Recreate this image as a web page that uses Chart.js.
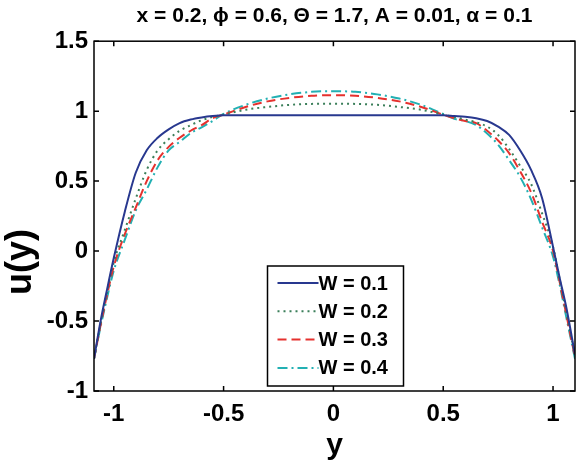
<!DOCTYPE html>
<html>
<head>
<meta charset="utf-8">
<script src="https://cdn.jsdelivr.net/npm/chart.js@4"></script>
<style>
  body { margin: 0; background: #fff; }
</style>
</head>
<body>
<canvas id="uChart" width="576" height="464"></canvas>
<script>
// channel coordinate y and the velocity profiles u(y) for each W
const yCoord = [-1.09, -1.06, -1.03, -1.0, -0.95, -0.9, -0.85, -0.8, -0.75, -0.7, -0.65, -0.6, -0.55,
  -0.5, -0.4, -0.3, -0.2, -0.1, 0, 0.1, 0.2, 0.3, 0.4, 0.5,
  0.55, 0.6, 0.65, 0.7, 0.75, 0.8, 0.85, 0.9, 0.95, 1.0, 1.03, 1.06, 1.1];

const uW1 = [-0.77, -0.50, -0.27, -0.05, 0.28, 0.56, 0.72, 0.81, 0.87, 0.915, 0.94, 0.955, 0.965,
  0.97, 0.97, 0.97, 0.97, 0.97, 0.97, 0.97, 0.97, 0.97, 0.97, 0.97,
  0.965, 0.96, 0.95, 0.93, 0.89, 0.83, 0.72, 0.58, 0.38, 0.03, -0.19, -0.40, -0.74];

const uW2 = [-0.77, -0.52, -0.29, -0.08, 0.15, 0.375, 0.58, 0.72, 0.80, 0.86, 0.90, 0.935, 0.958,
  0.975, 1.01, 1.03, 1.045, 1.052, 1.053, 1.052, 1.045, 1.03, 1.01, 0.975,
  0.958, 0.94, 0.92, 0.89, 0.83, 0.73, 0.61, 0.48, 0.27, 0.03, -0.20, -0.43, -0.75];

const uW3 = [-0.77, -0.53, -0.31, -0.11, 0.12, 0.31, 0.50, 0.65, 0.745, 0.81, 0.86, 0.90, 0.95,
  0.975, 1.03, 1.07, 1.095, 1.11, 1.114, 1.11, 1.095, 1.07, 1.03, 0.975,
  0.95, 0.93, 0.915, 0.86, 0.79, 0.70, 0.57, 0.42, 0.21, 0.0, -0.22, -0.45, -0.76];

const uW4 = [-0.77, -0.54, -0.33, -0.14, 0.08, 0.29, 0.44, 0.60, 0.72, 0.78, 0.843, 0.885, 0.93,
  0.98, 1.045, 1.09, 1.12, 1.138, 1.143, 1.138, 1.12, 1.09, 1.045, 0.98,
  0.945, 0.93, 0.90, 0.84, 0.76, 0.65, 0.53, 0.37, 0.17, -0.04, -0.24, -0.47, -0.77];

const seriesLabels = ['W = 0.1', 'W = 0.2', 'W = 0.3', 'W = 0.4'];

const xTicks = [-1, -0.5, 0, 0.5, 1];
const xTickLabels = ['-1', '-0.5', '0', '0.5', '1'];
const yTicks = [-1, -0.5, 0, 0.5, 1, 1.5];
const yTickLabels = ['-1', '-0.5', '0', '0.5', '1', '1.5'];

const FONT = "'Liberation Sans', Arial, sans-serif";

function toPoints(vals) {
    return yCoord.map((v, i) => ({ x: v, y: vals[i] }));
}

// box round the plot with inward tick marks on all four sides
const frame = {
    id: 'frame',
    afterDatasetsDraw(chart) {
        const { ctx, chartArea: a, scales: { x, y } } = chart;
        ctx.save();
        ctx.strokeStyle = '#000';
        ctx.lineWidth = 1.5;
        ctx.strokeRect(a.left, a.top, a.right - a.left, a.bottom - a.top);
        ctx.beginPath();
        xTicks.forEach(v => {
            const px = x.getPixelForValue(v);
            ctx.moveTo(px, a.bottom); ctx.lineTo(px, a.bottom - 5);
            ctx.moveTo(px, a.top); ctx.lineTo(px, a.top + 5);
        });
        yTicks.forEach(v => {
            const py = y.getPixelForValue(v);
            ctx.moveTo(a.left, py); ctx.lineTo(a.left + 5, py);
            ctx.moveTo(a.right, py); ctx.lineTo(a.right - 5, py);
        });
        ctx.stroke();

        // y axis title, sitting a little below the middle as in the figure
        ctx.save();
        ctx.translate(21, 262);
        ctx.rotate(-Math.PI / 2);
        ctx.font = 'bold 36px ' + FONT;
        ctx.fillStyle = '#000';
        ctx.textAlign = 'center';
        ctx.textBaseline = 'middle';
        ctx.fillText('u(y)', 0, 0);
        ctx.restore();
        ctx.restore();
    }
};

// legend inside the plot, near the bottom
const boxLegend = {
    id: 'boxLegend',
    afterDraw(chart) {
        const { ctx, chartArea: a } = chart;
        const w = 136, h = 120;
        const left = (a.left + a.right) / 2 - w / 2 + 1;
        const top = a.bottom - 5 - h;
        ctx.save();
        ctx.fillStyle = '#fff';
        ctx.fillRect(left, top, w, h);
        ctx.strokeStyle = '#000';
        ctx.lineWidth = 1.5;
        ctx.strokeRect(left, top, w, h);
        ctx.font = 'bold 20px ' + FONT;
        ctx.textBaseline = 'middle';
        ctx.fillStyle = '#000';
        chart.data.datasets.forEach((ds, i) => {
            const ry = top + 17 + i * 28.3;
            ctx.beginPath();
            ctx.strokeStyle = ds.borderColor;
            ctx.lineWidth = ds.borderWidth;
            ctx.setLineDash(ds.borderDash || []);
            ctx.moveTo(left + 10, ry);
            ctx.lineTo(left + 51, ry);
            ctx.stroke();
            ctx.setLineDash([]);
            ctx.fillText(ds.label, left + 51, ry + 1);
        });
        ctx.restore();
    }
};

const ctx = document.getElementById('uChart').getContext('2d');
const uChart = new Chart(ctx, {
    type: 'line',
    data: {
        datasets: [{
            label: seriesLabels[0],
            data: toPoints(uW1),
            borderColor: '#28388f',
            borderWidth: 2,
            borderDash: []
        }, {
            label: seriesLabels[1],
            data: toPoints(uW2),
            borderColor: '#3b7f5a',
            borderWidth: 2,
            borderDash: [2, 4]
        }, {
            label: seriesLabels[2],
            data: toPoints(uW3),
            borderColor: '#e5312e',
            borderWidth: 2,
            borderDash: [9, 5]
        }, {
            label: seriesLabels[3],
            data: toPoints(uW4),
            borderColor: '#22b0b3',
            borderWidth: 2,
            borderDash: [10, 4, 2, 4]
        }]
    },
    options: {
        responsive: false,
        animation: false,
        cubicInterpolationMode: 'monotone',
        elements: { point: { radius: 0 } },
        layout: { padding: { left: 0, right: 1, top: 0, bottom: 0 } },
        plugins: {
            legend: { display: false },
            tooltip: { enabled: false },
            title: {
                display: true,
                fullSize: false,
                text: 'x = 0.2, \u03D5 = 0.6, \u0398 = 1.7, A = 0.01, \u03B1 = 0.1',
                color: '#000',
                font: { family: FONT, size: 21, weight: 'bold' },
                padding: { top: 4, bottom: 12 }
            }
        },
        scales: {
            x: {
                type: 'linear',
                min: -1.09,
                max: 1.1,
                afterBuildTicks: s => { s.ticks = xTicks.map(v => ({ value: v })); },
                afterFit: s => { s.height = 73; },
                ticks: {
                    color: '#000',
                    padding: 9,
                    maxRotation: 0,
                    font: { family: FONT, size: 24, weight: 'bold' },
                    callback: v => xTickLabels[xTicks.indexOf(v)]
                },
                grid: { display: false, drawTicks: false },
                border: { display: false },
                title: {
                    display: true,
                    text: 'y',
                    color: '#000',
                    font: { family: FONT, size: 30, weight: 'bold' },
                    padding: { top: 0, bottom: 0 }
                }
            },
            y: {
                min: -1,
                max: 1.5,
                afterBuildTicks: s => { s.ticks = yTicks.map(v => ({ value: v })); },
                afterFit: s => { s.width = 94; },
                ticks: {
                    color: '#000',
                    padding: 6,
                    font: { family: FONT, size: 24, weight: 'bold' },
                    callback: v => yTickLabels[yTicks.indexOf(v)]
                },
                grid: { display: false, drawTicks: false },
                border: { display: false },
                title: { display: false }
            }
        }
    },
    plugins: [frame, boxLegend]
});
</script>
</body>
</html>
